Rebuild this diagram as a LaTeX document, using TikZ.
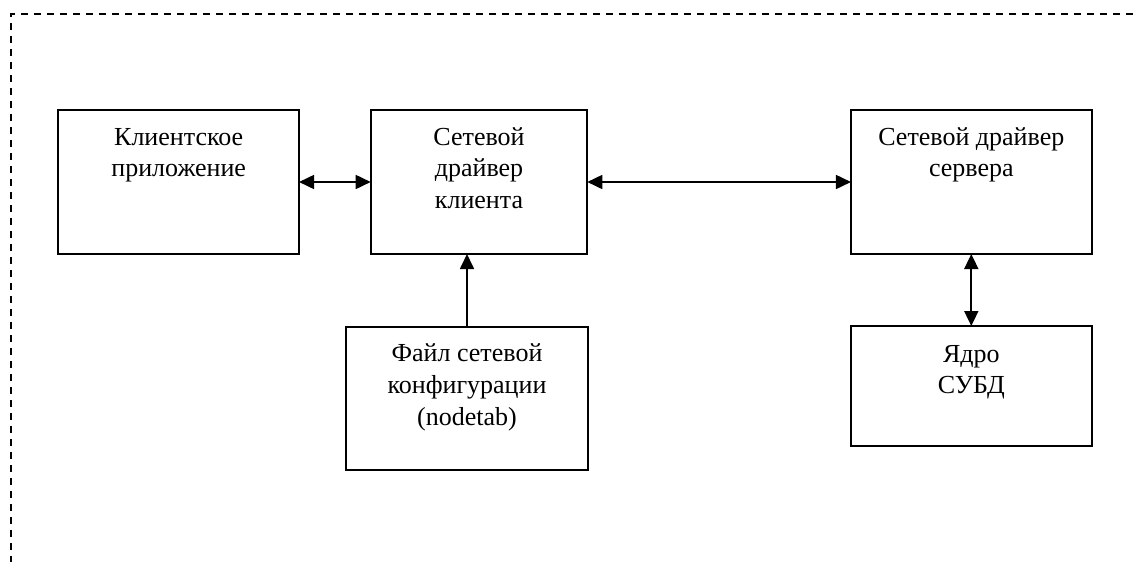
\documentclass[tikz,border=0pt]{standalone}
\usepackage{fontspec}
\setmainfont{Liberation Serif}
\usetikzlibrary{arrows.meta}
\tikzset{
  blockbox/.style={draw, line width=2pt, minimum width=#1, inner sep=0pt, outer sep=0pt},
  blocktext/.style={anchor=base, align=center, inner sep=0pt,
    font=\fontsize{26pt}{31.7pt}\selectfont},
  link/.style={line width=1.7pt, {Triangle[length=15pt,width=14pt]}-{Triangle[length=15pt,width=14pt]}},
  uplink/.style={line width=1.7pt, -{Triangle[length=15pt,width=14pt]}},
  frame/.style={line width=1.3pt, dash pattern=on 7pt off 6pt},
}
\begin{document}
\begin{tikzpicture}[x=1pt, y=-1pt]
  \useasboundingbox (0,0) rectangle (1133,562);

  % outer dashed boundary (only top and left edges fall inside the page)
  \draw[frame] (1133,14) -- (11,14) -- (11,562);

  % blocks
  \node[blockbox=240.7pt, minimum height=144pt] (app)  at (178.7,182) {};
  \node[blockbox=216.6pt, minimum height=144pt] (cdrv) at (479,182) {};
  \node[blockbox=240.7pt, minimum height=144pt] (sdrv) at (971.3,182) {};
  \node[blockbox=242pt, minimum height=143.3pt] (file) at (467,398.3) {};
  \node[blockbox=240.7pt, minimum height=120pt] (core) at (971.3,386) {};

  % block captions; the base anchor sits on the last line, so shift by
  % the first baseline (35pt below the top edge) plus the extra lines
  \node[blocktext] (appt)  at ([yshift=-66.7pt]app.north)  {Клиентское\\приложение};
  \node[blocktext] (cdrvt) at ([yshift=-98.4pt]cdrv.north) {Сетевой\\драйвер\\клиента};
  \node[blocktext] (sdrvt) at ([yshift=-66.7pt]sdrv.north) {Сетевой драйвер\\сервера};
  \node[blocktext] (filet) at ([yshift=-98.4pt]file.north) {Файл сетевой\\конфигурации\\(nodetab)};
  \node[blocktext] (coret) at ([yshift=-67.7pt]core.north) {Ядро\\СУБД};

  % connectors
  \draw[link] (app.east) -- (cdrv.west);
  \draw[link] (cdrv.east) -- (sdrv.west);
  \draw[uplink] (file.north) -- (file.north |- cdrv.south);
  \draw[link] (core.north) -- (sdrv.south);
\end{tikzpicture}
\end{document}
